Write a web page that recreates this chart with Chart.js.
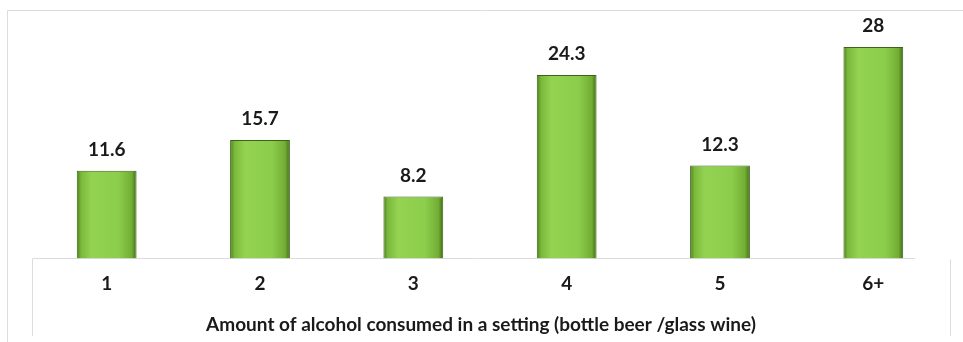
<!DOCTYPE html>
<html>
<head>
<meta charset="utf-8">
<script src="https://cdn.jsdelivr.net/npm/chart.js@4/dist/chart.umd.min.js"></script>
<style>
  html, body { margin: 0; padding: 0; background: #ffffff; }
  #wrap { width: 963px; height: 342px; position: relative; }
</style>
</head>
<body>
<div id="wrap"><canvas id="c" width="963" height="342"></canvas></div>
<script>
// Drinks per setting and share of respondents
const categories = ['1', '2', '3', '4', '5', '6+'];
const percentages = [11.6, 15.7, 8.2, 24.3, 12.3, 28];
const axisTitle = 'Amount of alcohol consumed in a setting (bottle beer /glass wine)';

const FONT = "Lato, 'Open Sans', sans-serif";

// Bevelled green fill, shaded across each bar's width
function barFill(ctx) {
  const chart = ctx.chart;
  const xs = chart.scales && chart.scales.x;
  if (!xs || !chart.chartArea || ctx.dataIndex === undefined) return '#8fcf4d';
  const cx = xs.getPixelForValue(ctx.dataIndex);
  const w = (chart.chartArea.right - chart.chartArea.left) / categories.length * 0.39;
  const g = chart.ctx.createLinearGradient(cx - w / 2, 0, cx + w / 2, 0);
  g.addColorStop(0, '#4a7a1b');
  g.addColorStop(0.07, '#79b83a');
  g.addColorStop(0.25, '#94d352');
  g.addColorStop(0.7, '#8ccd4b');
  g.addColorStop(0.92, '#72ad34');
  g.addColorStop(1, '#3f6a16');
  return g;
}

// Outer frame, baseline and the box under the bars
const framePlugin = {
  id: 'frame',
  beforeDraw(chart) {
    const { ctx, chartArea } = chart;
    ctx.save();
    ctx.strokeStyle = '#dcdcdc';
    ctx.lineWidth = 1;
    ctx.beginPath();
    ctx.moveTo(7.5, 342);
    ctx.lineTo(7.5, 10.5);
    ctx.lineTo(963, 10.5);
    ctx.stroke();
    const b = Math.round(chartArea.bottom) + 0.5;
    ctx.beginPath();
    ctx.moveTo(32.5, 336);
    ctx.lineTo(32.5, b);
    ctx.lineTo(915, b);
    ctx.stroke();
    ctx.beginPath();
    ctx.moveTo(950.5, b + 1);
    ctx.lineTo(950.5, 336);
    ctx.stroke();
    ctx.restore();
  }
};

// Value printed above every bar, plus the category axis title
const textPlugin = {
  id: 'valueLabels',
  afterDatasetsDraw(chart) {
    const { ctx } = chart;
    const meta = chart.getDatasetMeta(0);
    ctx.save();
    ctx.font = 'bold 19px ' + FONT;
    ctx.fillStyle = '#1a1a1a';
    ctx.textAlign = 'center';
    ctx.textBaseline = 'middle';
    meta.data.forEach((bar, i) => {
      ctx.fillText(String(percentages[i]), bar.x, bar.y - 21);
    });
    ctx.fillText(axisTitle, 481, 325);
    ctx.restore();
  }
};

new Chart(document.getElementById('c'), {
  type: 'bar',
  data: {
    labels: categories,
    datasets: [{
      data: percentages,
      backgroundColor: barFill,
      borderColor: '#3b6414',
      borderWidth: 1,
      categoryPercentage: 1,
      barPercentage: 0.39
    }]
  },
  options: {
    responsive: false,
    animation: false,
    events: [],
    layout: { padding: { left: 30, right: 13, top: 32, bottom: 8 } },
    plugins: { legend: { display: false }, tooltip: { enabled: false } },
    scales: {
      y: { display: false, min: 0, max: 30 },
      x: {
        grid: { display: false, drawTicks: false },
        border: { display: false },
        ticks: {
          color: '#1a1a1a',
          padding: 14,
          font: { family: FONT, size: 19, weight: 'bold' }
        },
        title: {
          display: true,
          text: axisTitle,
          color: 'rgba(0,0,0,0)',
          padding: { top: 2, bottom: 0 },
          font: { family: FONT, size: 19, weight: 'bold' }
        }
      }
    }
  },
  plugins: [framePlugin, textPlugin]
});
</script>
</body>
</html>
